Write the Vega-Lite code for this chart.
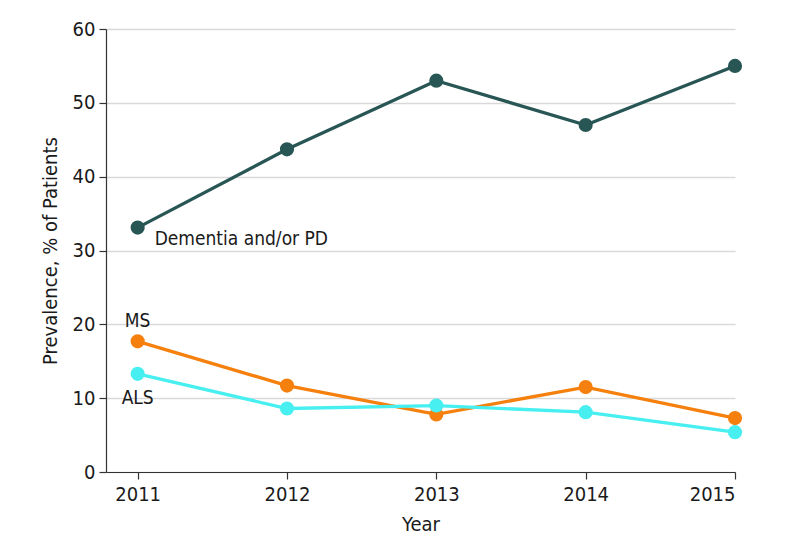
{
  "$schema": "https://vega.github.io/schema/vega-lite/v6.json",
  "autosize": "none",
  "width": 629,
  "height": 443,
  "padding": {"left": 106, "top": 29, "right": 59, "bottom": 84},
  "background": "white",
  "config": {
    "font": "DejaVu Sans Condensed",
    "view": {"stroke": null},
    "axis": {"labelColor": "#1a1a1a", "titleColor": "#1a1a1a", "labelFontSize": 20, "titleFontSize": 20, "titleFontWeight": "normal", "domainColor": "#333333", "tickColor": "#333333", "domainWidth": 1.2, "tickWidth": 1.2}
  },
  "datasets": {
    "series": [
      {"year": 2011, "value": 33.1, "group": "Dementia and/or PD"},
      {"year": 2012, "value": 43.7, "group": "Dementia and/or PD"},
      {"year": 2013, "value": 53.0, "group": "Dementia and/or PD"},
      {"year": 2014, "value": 47.0, "group": "Dementia and/or PD"},
      {"year": 2015, "value": 55.0, "group": "Dementia and/or PD"},
      {"year": 2011, "value": 17.7, "group": "MS"},
      {"year": 2012, "value": 11.7, "group": "MS"},
      {"year": 2013, "value": 7.8, "group": "MS"},
      {"year": 2014, "value": 11.5, "group": "MS"},
      {"year": 2015, "value": 7.3, "group": "MS"},
      {"year": 2011, "value": 13.3, "group": "ALS"},
      {"year": 2012, "value": 8.6, "group": "ALS"},
      {"year": 2013, "value": 9.0, "group": "ALS"},
      {"year": 2014, "value": 8.1, "group": "ALS"},
      {"year": 2015, "value": 5.4, "group": "ALS"}
    ],
    "labels": [
      {"year": 2011, "value": 31.6, "label": "Dementia and/or PD", "kind": "right"},
      {"year": 2011, "value": 20.5, "label": "MS", "kind": "center"},
      {"year": 2011, "value": 10.0, "label": "ALS", "kind": "center"}
    ]
  },
  "layer": [
    {
      "data": {"name": "series"},
      "mark": {"type": "line", "strokeWidth": 3.3, "clip": false},
      "encoding": {
        "x": {"field": "year", "type": "quantitative", "scale": {"domain": [2010.788, 2015], "nice": false, "zero": false},
          "axis": {"values": [2011, 2012, 2013, 2014, 2015], "format": "d", "title": "Year", "grid": false, "tickSize": 7, "labelPadding": 5, "titlePadding": 10}},
        "y": {"field": "value", "type": "quantitative", "scale": {"domain": [0, 60], "nice": false},
          "axis": {"values": [0, 10, 20, 30, 40, 50, 60], "title": "Prevalence, % of Patients", "grid": true, "gridColor": "#d9d9d9", "gridWidth": 1.5, "tickSize": 7, "labelPadding": 4, "titlePadding": 12}},
        "color": {"field": "group", "type": "nominal", "scale": {"domain": ["Dementia and/or PD", "MS", "ALS"], "range": ["#285654", "#f5800e", "#48eff0"]}, "legend": null},
        "order": {"field": "group"}
      }
    },
    {
      "data": {"name": "series"},
      "mark": {"type": "point", "filled": true, "opacity": 1, "size": 200, "clip": false},
      "encoding": {
        "x": {"field": "year", "type": "quantitative"},
        "y": {"field": "value", "type": "quantitative"},
        "color": {"field": "group", "type": "nominal", "legend": null}
      }
    },
    {
      "data": {"name": "labels"},
      "transform": [{"filter": "datum.kind === 'right'"}],
      "mark": {"type": "text", "align": "left", "baseline": "middle", "dx": 17, "fontSize": 19, "color": "#1a1a1a"},
      "encoding": {
        "x": {"field": "year", "type": "quantitative"},
        "y": {"field": "value", "type": "quantitative"},
        "text": {"field": "label"}
      }
    },
    {
      "data": {"name": "labels"},
      "transform": [{"filter": "datum.kind === 'center'"}],
      "mark": {"type": "text", "align": "center", "baseline": "middle", "fontSize": 19, "color": "#1a1a1a"},
      "encoding": {
        "x": {"field": "year", "type": "quantitative"},
        "y": {"field": "value", "type": "quantitative"},
        "text": {"field": "label"}
      }
    }
  ]
}
